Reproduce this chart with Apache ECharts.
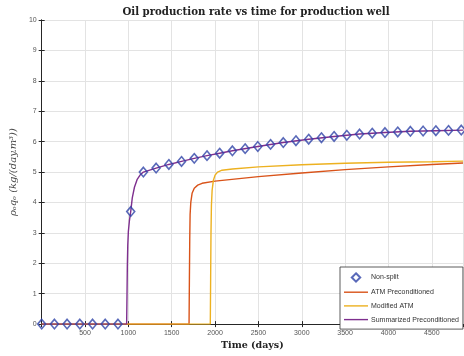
<!DOCTYPE html>
<html>
<head>
<meta charset="utf-8">
<script src="https://cdn.jsdelivr.net/npm/echarts@6/dist/echarts.min.js"></script>
<style>
  html, body { margin: 0; padding: 0; background: #fff; }
  #chart { width: 464px; height: 356px; }
</style>
</head>
<body>
<div id="chart"></div>
<script>
// Production-well oil rate (rho_o * q_o) against time, four solver variants.

// Non-split reference run (diamond markers)
const nonSplitDays = [0, 147, 293, 440, 587, 733, 880, 1027, 1173, 1320, 1467, 1613, 1760, 1907,
  2053, 2200, 2347, 2493, 2640, 2787, 2933, 3080, 3227, 3373, 3520, 3667, 3813, 3960, 4107,
  4253, 4400, 4547, 4693, 4840];
const nonSplitRate = [0, 0, 0, 0, 0, 0, 0, 3.70, 5.00, 5.13, 5.25, 5.35, 5.45, 5.54,
  5.62, 5.70, 5.77, 5.84, 5.91, 5.97, 6.03, 6.08, 6.13, 6.17, 6.21, 6.25, 6.28, 6.30,
  6.32, 6.34, 6.35, 6.36, 6.37, 6.38];

// ATM Preconditioned
const atmDays = [0, 1700, 1704, 1708, 1712, 1720, 1735, 1760, 1800, 1850, 2000, 2500, 3000, 3500, 4000, 4500, 4860];
const atmRate = [0, 0, 1.5, 2.8, 3.6, 4.0, 4.3, 4.47, 4.57, 4.63, 4.70, 4.85, 4.97, 5.08, 5.17, 5.25, 5.30];

// Modified ATM
const modDays = [0, 1945, 1949, 1953, 1958, 1966, 1980, 2000, 2030, 2080, 2200, 2500, 3000, 3500, 4000, 4500, 4860];
const modRate = [0, 0, 1.5, 3.0, 3.9, 4.4, 4.72, 4.9, 5.0, 5.06, 5.10, 5.17, 5.24, 5.29, 5.32, 5.34, 5.36];

// Summarized Preconditioned
const sumDays = [0, 980, 984, 988, 993, 1000, 1012, 1027, 1045, 1070, 1100, 1135, 1173, 1320, 1467,
  1613, 1760, 1907, 2053, 2200, 2493, 2787, 3080, 3373, 3667, 3960, 4253, 4547, 4860];
const sumRate = [0, 0, 0.9, 1.9, 2.6, 3.05, 3.4, 3.7, 4.15, 4.5, 4.75, 4.9, 5.0, 5.13, 5.25,
  5.35, 5.45, 5.54, 5.62, 5.70, 5.84, 5.97, 6.08, 6.17, 6.25, 6.30, 6.34, 6.36, 6.38];

const xTickStep = 500;
const yTicks = [0, 1, 2, 3, 4, 5, 6, 7, 8, 9, 10];
const xMax = 4860;

const pairs = (xs, ys) => xs.map((x, i) => [x, ys[i]]);

const axisColor = '#262626';
const labelColor = '#555555';
const gridColor = '#e3e3e3';
const markerColor = '#2F44A8';
const tickFont = { fontFamily: 'Liberation Sans', fontSize: 7, color: labelColor };

// Legend glyphs: a thin centred stroke for curves, a small centred diamond for markers.
// The leading/trailing moves pin the glyph box to the full 24x9 legend slot.
const lineIcon = 'path://M0,0 L0,0 M0,3.8 L24,3.8 L24,5.2 L0,5.2 Z M24,9 L24,9';
const diamondIcon = 'path://M0,0 L0,0 M12,0.3 L16.2,4.5 L12,8.7 L7.8,4.5 Z M24,9 L24,9';

const chart = echarts.init(document.getElementById('chart'), null, { renderer: 'canvas' });

const lineSeries = (name, data, color) => ({
  name, type: 'line', data, showSymbol: false, symbol: 'none',
  lineStyle: { color, width: 1.4 }, itemStyle: { color },
  animation: false, z: 2
});

chart.setOption({
  animation: false,
  title: {
    text: 'Oil production rate vs time for production well',
    left: 251, top: 2, textAlign: 'center',
    textStyle: { fontFamily: 'DejaVu Serif', fontWeight: 'bold', fontSize: 10.2, color: '#222' }
  },
  grid: { left: 36, right: 1, top: 20, bottom: 28, containLabel: false },
  xAxis: [{
    type: 'value', min: 0, max: xMax, interval: xTickStep,
    name: 'Time (days)', nameLocation: 'middle', nameGap: 15,
    nameTextStyle: { fontFamily: 'DejaVu Serif', fontWeight: 'bold', fontSize: 9.5, color: '#222' },
    axisLine: { show: true, lineStyle: { color: axisColor, width: 1 } },
    axisTick: { show: true, inside: true, length: 3, lineStyle: { color: axisColor } },
    axisLabel: Object.assign({ margin: 5, showMaxLabel: false,
      formatter: v => (v === 0 ? '' : String(v)) }, tickFont),
    splitLine: { show: true, lineStyle: { color: gridColor, width: 1 } }
  }, {
    type: 'value', position: 'top', min: 0, max: xMax, interval: xTickStep,
    axisLine: { show: true, lineStyle: { color: axisColor, width: 1 } },
    axisTick: { show: true, inside: true, length: 3, lineStyle: { color: axisColor } },
    axisLabel: { show: false }, splitLine: { show: false }
  }],
  yAxis: [{
    type: 'value', min: yTicks[0], max: yTicks[yTicks.length - 1], interval: 1,
    name: 'ρₒqₒ (kg/(day.m³))', nameLocation: 'middle', nameGap: 21, nameRotate: 90,
    nameTextStyle: { fontFamily: 'DejaVu Serif', fontStyle: 'italic', fontSize: 10, color: '#444' },
    axisLine: { show: true, lineStyle: { color: axisColor, width: 1 } },
    axisTick: { show: true, inside: true, length: 3, lineStyle: { color: axisColor } },
    axisLabel: Object.assign({ margin: 5 }, tickFont),
    splitLine: { show: true, lineStyle: { color: gridColor, width: 1 } }
  }, {
    type: 'value', position: 'right', min: 0, max: 10, interval: 1,
    axisLine: { show: true, lineStyle: { color: axisColor, width: 1 } },
    axisTick: { show: true, inside: true, length: 3, lineStyle: { color: axisColor } },
    axisLabel: { show: false }, splitLine: { show: false }
  }],
  legend: {
    orient: 'vertical', left: 340, top: 267,
    itemWidth: 24, itemHeight: 9, itemGap: 4.7,
    padding: [5, 4, 5, 3],
    backgroundColor: '#fff', borderColor: '#333', borderWidth: 0.8, borderRadius: 0,
    textStyle: { fontFamily: 'Liberation Sans', fontSize: 7, color: '#333', padding: [0, 0, 0, -2] },
    data: [
      { name: 'Non-split', icon: diamondIcon },
      { name: 'ATM Preconditioned', icon: lineIcon },
      { name: 'Modified ATM', icon: lineIcon },
      { name: 'Summarized Preconditioned', icon: lineIcon }
    ]
  },
  series: [
    lineSeries('ATM Preconditioned', pairs(atmDays, atmRate), '#D95319'),
    lineSeries('Modified ATM', pairs(modDays, modRate), '#EDB120'),
    lineSeries('Summarized Preconditioned', pairs(sumDays, sumRate), '#7E2F8E'),
    {
      name: 'Non-split', type: 'scatter', data: pairs(nonSplitDays, nonSplitRate),
      symbol: 'diamond', symbolSize: [8, 9.5],
      itemStyle: { color: 'rgba(255,255,255,0)', borderColor: markerColor, borderWidth: 1.6 },
      z: 3
    }
  ]
});
</script>
</body>
</html>
